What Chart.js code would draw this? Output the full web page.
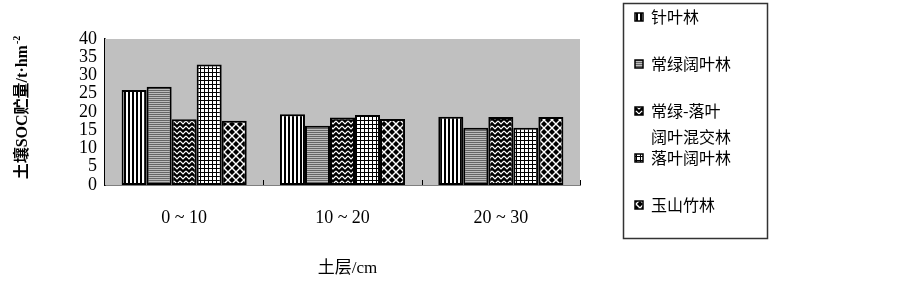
<!DOCTYPE html>
<html>
<head>
<meta charset="utf-8">
<script src="https://cdn.jsdelivr.net/npm/chart.js@4/dist/chart.umd.min.js"></script>
<style>
  html, body { margin: 0; padding: 0; background: #fff; }
  #wrap { width: 903px; height: 281px; }
</style>
</head>
<body>
<div id="wrap"><canvas id="chart" width="903" height="281"></canvas></div>
<script>
var layers = ["0 ~ 10", "10 ~ 20", "20 ~ 30"];
var seriesNames = ["针叶林", "常绿阔叶林", "常绿-落叶\n阔叶混交林", "落叶阔叶林", "玉山竹林"];
var conifer = [26.0, 19.4, 18.7];
var evergreen = [26.9, 16.2, 15.7];
var mixed = [18.0, 18.5, 18.6];
var deciduous = [33.0, 19.2, 15.7];
var bamboo = [17.6, 18.1, 18.6];
var yTicks = [0, 5, 10, 15, 20, 25, 30, 35, 40];

var serif = "'Liberation Serif', 'Noto Sans CJK SC', serif";
var cjk = "'Noto Sans CJK SC', sans-serif";

function makePattern(kind) {
  var c = document.createElement("canvas");
  var g = c.getContext("2d");
  if (kind === "vstripe") {
    c.width = 4; c.height = 4;
    g.fillStyle = "#fff"; g.fillRect(0, 0, 4, 4);
    g.fillStyle = "#000"; g.fillRect(0, 0, 2, 4);
  } else if (kind === "hstripe") {
    c.width = 2; c.height = 2;
    g.fillStyle = "#bcbcbc"; g.fillRect(0, 0, 2, 2);
    g.fillStyle = "#666"; g.fillRect(0, 0, 2, 1);
  } else if (kind === "zigzag") {
    c.width = 6; c.height = 5;
    g.fillStyle = "#000"; g.fillRect(0, 0, 6, 5);
    g.strokeStyle = "#fff"; g.lineWidth = 1.2;
    g.beginPath(); g.moveTo(0, 1); g.lineTo(3, 4); g.lineTo(6, 1); g.stroke();
  } else if (kind === "grid") {
    c.width = 4; c.height = 4;
    g.fillStyle = "#fff"; g.fillRect(0, 0, 4, 4);
    g.fillStyle = "#000"; g.fillRect(0, 0, 4, 1); g.fillRect(0, 0, 1, 4);
  } else {
    c.width = 8; c.height = 8;
    g.fillStyle = "#000"; g.fillRect(0, 0, 8, 8);
    g.strokeStyle = "#fff"; g.lineWidth = 1.4;
    g.beginPath(); g.moveTo(0, 0); g.lineTo(8, 8); g.moveTo(8, 0); g.lineTo(0, 8); g.stroke();
  }
  return document.getElementById("chart").getContext("2d").createPattern(c, "repeat");
}

var fills = [makePattern("vstripe"), makePattern("hstripe"), makePattern("zigzag"), makePattern("grid"), makePattern("diamond")];
var values = [conifer, evergreen, mixed, deciduous, bamboo];

var datasets = seriesNames.map(function (name, i) {
  return {
    label: name,
    data: values[i],
    backgroundColor: fills[i],
    borderColor: "#000",
    borderWidth: 2,
    borderSkipped: false,
    barPercentage: 1,
    categoryPercentage: 0.79
  };
});

// gray plot background, inward x ticks, axis titles and the boxed legend
var decor = {
  id: "decor",
  beforeDatasetsDraw: function (chart) {
    var a = chart.chartArea;
    var ctx = chart.ctx;
    ctx.save();
    ctx.fillStyle = "#c0c0c0";
    ctx.fillRect(a.left, a.top, a.right - a.left, a.bottom - a.top);
    ctx.restore();
  },
  afterDraw: function (chart) {
    var ctx = chart.ctx;
    var a = chart.chartArea;
    var xs = chart.scales.x;
    ctx.save();

    // tick marks between categories
    ctx.strokeStyle = "#000";
    ctx.lineWidth = 1;
    for (var i = 0; i < layers.length; i++) {
      var px = i < layers.length - 1
        ? (xs.getPixelForValue(i) + xs.getPixelForValue(i + 1)) / 2
        : a.right;
      ctx.beginPath();
      ctx.moveTo(Math.round(px) + 0.5, a.bottom);
      ctx.lineTo(Math.round(px) + 0.5, a.bottom - 5);
      ctx.stroke();
    }

    // x title
    ctx.fillStyle = "#000";
    ctx.font = "17px " + serif;
    ctx.textAlign = "center";
    ctx.textBaseline = "middle";
    ctx.fillText("土层/cm", (a.left + a.right) / 2 + 5, 269);

    // y title with superscript
    ctx.translate(23, 108);
    ctx.rotate(-Math.PI / 2);
    ctx.font = "bold 16px " + serif;
    var main = "土壤SOC贮量/t·hm";
    var wMain = ctx.measureText(main).width;
    ctx.font = "bold 10px " + serif;
    var wSup = ctx.measureText("-2").width;
    var x0 = -(wMain + wSup) / 2;
    ctx.textAlign = "left";
    ctx.font = "bold 16px " + serif;
    ctx.fillText(main, x0, 0);
    ctx.font = "bold 10px " + serif;
    ctx.fillText("-2", x0 + wMain + 1, -6);
    ctx.setTransform(1, 0, 0, 1, 0, 0);

    // legend box
    ctx.strokeStyle = "#333";
    ctx.lineWidth = 1.5;
    ctx.strokeRect(623.5, 3.5, 144, 235);
    ctx.font = "16px " + cjk;
    ctx.textAlign = "left";
    ctx.textBaseline = "middle";
    seriesNames.forEach(function (name, k) {
      var y = 17 + k * 47;
      ctx.fillStyle = fills[k];
      ctx.fillRect(635, y - 4, 8, 8);
      ctx.strokeStyle = "#000";
      ctx.lineWidth = 1.5;
      ctx.strokeRect(635, y - 4, 8, 8);
      ctx.fillStyle = "#000";
      name.split("\n").forEach(function (line, j) {
        ctx.fillText(line, 651, y + j * 26);
      });
    });
    ctx.restore();
  }
};

new Chart(document.getElementById("chart"), {
  type: "bar",
  data: { labels: layers, datasets: datasets },
  plugins: [decor],
  options: {
    responsive: false,
    animation: false,
    events: [],
    layout: { padding: { left: 0, right: 323, top: 39, bottom: 0 } },
    plugins: { legend: { display: false }, tooltip: { enabled: false } },
    scales: {
      x: {
        grid: { display: false, drawTicks: false },
        border: { display: true, color: "#000", width: 1.5 },
        ticks: { color: "#000", padding: 22, font: { family: serif, size: 18 } },
        afterFit: function (s) { s.height = 96; }
      },
      y: {
        min: 0,
        max: 40,
        afterBuildTicks: function (s) { s.ticks = yTicks.map(function (v) { return { value: v }; }); },
        grid: { display: false, drawTicks: false },
        border: { display: true, color: "#000", width: 1.5 },
        ticks: { color: "#000", padding: 8, autoSkip: false, font: { family: serif, size: 18 } },
        afterFit: function (s) { s.width = 105; }
      }
    }
  }
});
</script>
</body>
</html>
